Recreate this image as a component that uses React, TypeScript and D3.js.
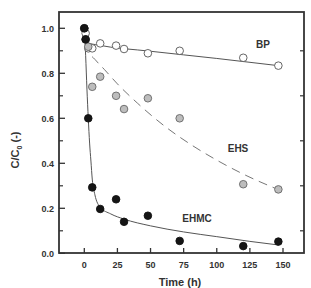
import React from "react";
import * as d3 from "d3";

const times = [0, 1, 3, 6, 12, 24, 30, 48, 72, 120, 146.5];
const bpValues = [1.0, 0.978, 0.911, 0.911, 0.933, 0.923, 0.908, 0.889, 0.9, 0.869, 0.834];
const ehsValues = [1.0, 0.95, 0.918, 0.74, 0.785, 0.7, 0.641, 0.689, 0.6, 0.307, 0.284];
const ehmcValues = [1.0, 0.951, 0.6, 0.293, 0.197, 0.24, 0.14, 0.167, 0.055, 0.032, 0.052];

const bpFitT = [0, 1, 3, 10, 50, 100, 146.5];
const bpFitV = [1.0, 0.96, 0.935, 0.926, 0.898, 0.866, 0.834];
const ehsFitT = [0, 1, 3, 8, 15, 25, 40, 60, 80, 100, 120, 146.5];
const ehsFitV = [1.0, 0.94, 0.9, 0.862, 0.818, 0.753, 0.668, 0.568, 0.485, 0.414, 0.352, 0.283];
const ehmcFitT = [0, 1, 2, 3, 4, 5, 6, 8, 12, 20, 30, 50, 75, 100, 125, 146.5];
const ehmcFitV = [1.0, 0.88, 0.73, 0.6, 0.49, 0.41, 0.33, 0.26, 0.205, 0.175, 0.152, 0.122, 0.095, 0.074, 0.053, 0.037];

const xTicks = [0, 25, 50, 75, 100, 125, 150];
const yTicks = [0.0, 0.2, 0.4, 0.6, 0.8, 1.0];
const yMinorTicks = [0.1, 0.3, 0.5, 0.7, 0.9];

const W = 311, H = 288;
const left = 59, right = 304, top = 12, bottom = 253;

export default function App() {
  const x = d3.scaleLinear().domain([0, 150]).range([84.3, 283]);
  const xDomainLeft = x.invert(left);
  const xDomainRight = x.invert(right);
  const xs = d3.scaleLinear().domain([xDomainLeft, xDomainRight]).range([left, right]);
  const y = d3.scaleLinear().domain([0, 1]).range([253.3, 28.3]);

  const mk = (ts: number[], vs: number[]) =>
    d3.line<number>().x((_, i) => xs(ts[i])).y((v) => y(v)).curve(d3.curveMonotoneX)(vs) || "";

  const font = "'Liberation Sans', Arial, sans-serif";
  const ink = "#333";

  const pts = (vals: number[], fill: string, stroke: string, key: string) =>
    vals.map((v, i) => (
      <circle key={key + i} cx={xs(times[i])} cy={y(v)} r={3.8} fill={fill} stroke={stroke} strokeWidth={0.9} />
    ));

  return (
    <svg width={W} height={H} style={{ position: "absolute", left: 0, top: 0 }}>
      <rect x={0} y={0} width={W} height={H} fill="#fff" />
      {/* fit curves */}
      <path d={mk(bpFitT, bpFitV)} fill="none" stroke="#555" strokeWidth={1} />
      <path d={mk(ehsFitT, ehsFitV)} fill="none" stroke="#777" strokeWidth={1} strokeDasharray="9,6" />
      <path d={mk(ehmcFitT, ehmcFitV)} fill="none" stroke="#555" strokeWidth={1} />
      {/* points */}
      {pts(bpValues, "#fff", "#555", "bp")}
      {pts(ehsValues, "#bdbdbd", "#666", "ehs")}
      {pts(ehmcValues, "#151515", "#111", "ehmc")}
      {/* frame */}
      <rect x={left} y={top} width={right - left} height={bottom - top} fill="none" stroke={ink} strokeWidth={1.8} />
      {/* x ticks */}
      {xTicks.map((t) => (
        <g key={"xt" + t}>
          <line x1={xs(t)} x2={xs(t)} y1={bottom} y2={bottom - 5} stroke={ink} strokeWidth={1.3} />
          <text x={xs(t)} y={bottom + 15} textAnchor="middle" fontFamily={font} fontWeight="bold" fontSize={9} fill={ink}>
            {t}
          </text>
        </g>
      ))}
      {/* y ticks */}
      {yTicks.map((v) => (
        <g key={"yt" + v}>
          <line x1={left} x2={left + 6} y1={y(v)} y2={y(v)} stroke={ink} strokeWidth={1.3} />
          <text x={54} y={y(v) + 3.2} textAnchor="end" fontFamily={font} fontWeight="bold" fontSize={9} fill={ink}>
            {v.toFixed(1)}
          </text>
        </g>
      ))}
      {yMinorTicks.map((v) => (
        <g key={"ym" + v}>
          <line x1={left} x2={left + 4} y1={y(v)} y2={y(v)} stroke={ink} strokeWidth={1.2} />
          <line x1={right} x2={right - 4} y1={y(v)} y2={y(v)} stroke={ink} strokeWidth={1.2} />
        </g>
      ))}
      {/* series labels */}
      <text x={263} y={48} textAnchor="middle" fontFamily={font} fontWeight="bold" fontSize={10} fill={ink}>BP</text>
      <text x={238} y={152} textAnchor="middle" fontFamily={font} fontWeight="bold" fontSize={10} fill={ink}>EHS</text>
      <text x={197} y={222} textAnchor="middle" fontFamily={font} fontWeight="bold" fontSize={10} fill={ink}>EHMC</text>
      {/* axis titles */}
      <text x={180} y={286} textAnchor="middle" fontFamily={font} fontWeight="bold" fontSize={11} fill={ink}>
        Time  (h)
      </text>
      <text transform="translate(19,150) rotate(-90)" textAnchor="middle" fontFamily={font} fontWeight="bold" fontSize={11} fill={ink}>
        C/C<tspan fontSize={7} dy={3}>0</tspan><tspan dy={-3}>{"  (-)"}</tspan>
      </text>
    </svg>
  );
}
